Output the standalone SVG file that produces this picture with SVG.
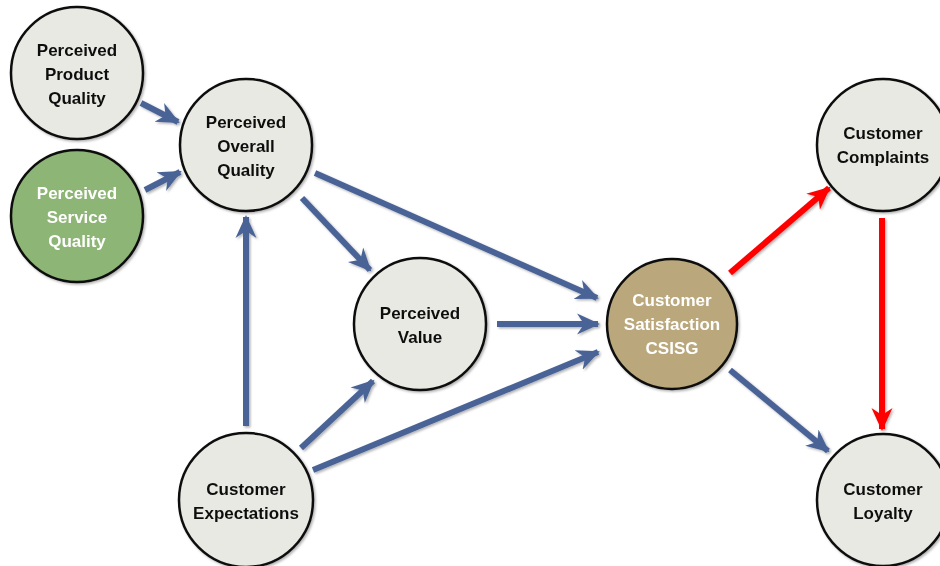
<svg xmlns="http://www.w3.org/2000/svg" width="940" height="566" viewBox="0 0 940 566">
<defs>
<marker id="ab" markerUnits="userSpaceOnUse" markerWidth="24" markerHeight="24" viewBox="0 0 24 24" refX="21" refY="12" orient="auto">
<path d="M0,1.5 L23,12 L0,22.5 L7,12 z" fill="#4A6497"/>
</marker>
<marker id="ar" markerUnits="userSpaceOnUse" markerWidth="24" markerHeight="24" viewBox="0 0 24 24" refX="21" refY="12" orient="auto">
<path d="M0,1.5 L23,12 L0,22.5 L7,12 z" fill="#FF0000"/>
</marker>
<filter id="sh" x="-20%" y="-20%" width="140%" height="140%">
<feDropShadow dx="1.5" dy="1.5" stdDeviation="1.2" flood-color="#000" flood-opacity="0.3"/>
</filter>
</defs>
<style>
.n{fill:#E9E9E3;stroke:#111;stroke-width:2.5}
.g{fill:#8DB574}
.t{fill:#BAA87C}
text{font-family:"Liberation Sans",Arial,sans-serif;font-weight:bold;font-size:17px;text-anchor:middle;fill:#111}
.w{fill:#fff}
.b{stroke:#4A6497;stroke-width:6;fill:none;marker-end:url(#ab)}
.r{stroke:#FF0000;stroke-width:6;fill:none;marker-end:url(#ar)}
</style>
<rect width="940" height="566" fill="#fff"/>
<g id="connectors" filter="url(#sh)">
<line class="b" x1="141" y1="103" x2="178" y2="122"/>
<line class="b" x1="145" y1="190" x2="180" y2="172"/>
<line class="b" x1="246" y1="426" x2="246" y2="217"/>
<line class="b" x1="302" y1="198" x2="370" y2="270"/>
<line class="b" x1="315" y1="173" x2="597" y2="298"/>
<line class="b" x1="497" y1="324" x2="598" y2="324"/>
<line class="b" x1="301" y1="448" x2="373" y2="381"/>
<line class="b" x1="313" y1="470" x2="598" y2="352"/>
<line class="b" x1="730" y1="370" x2="828" y2="451"/>
<line class="r" x1="730" y1="273" x2="829" y2="188"/>
<line class="r" x1="882" y1="218" x2="882" y2="429"/>
</g>
<g id="n-product" filter="url(#sh)"><circle class="n" cx="77" cy="73" r="66"/>
<text x="77" y="56">Perceived</text><text x="77" y="80">Product</text><text x="77" y="104">Quality</text></g>
<g id="n-service" filter="url(#sh)"><circle class="n g" cx="77" cy="216" r="66"/>
<text class="w" x="77" y="199">Perceived</text><text class="w" x="77" y="223">Service</text><text class="w" x="77" y="247">Quality</text></g>
<g id="n-overall" filter="url(#sh)"><circle class="n" cx="246" cy="145" r="66"/>
<text x="246" y="128">Perceived</text><text x="246" y="152">Overall</text><text x="246" y="176">Quality</text></g>
<g id="n-value" filter="url(#sh)"><circle class="n" cx="420" cy="324" r="66"/>
<text x="420" y="319">Perceived</text><text x="420" y="343">Value</text></g>
<g id="n-satisfaction" filter="url(#sh)"><circle class="n t" cx="672" cy="324" r="65"/>
<text class="w" x="672" y="306">Customer</text><text class="w" x="672" y="330">Satisfaction</text><text class="w" x="672" y="354">CSISG</text></g>
<g id="n-complaints" filter="url(#sh)"><circle class="n" cx="883" cy="145" r="66"/>
<text x="883" y="139">Customer</text><text x="883" y="163">Complaints</text></g>
<g id="n-expectations" filter="url(#sh)"><circle class="n" cx="246" cy="500" r="67"/>
<text x="246" y="495">Customer</text><text x="246" y="519">Expectations</text></g>
<g id="n-loyalty" filter="url(#sh)"><circle class="n" cx="883" cy="500" r="66"/>
<text x="883" y="495">Customer</text><text x="883" y="519">Loyalty</text></g>
</svg>
